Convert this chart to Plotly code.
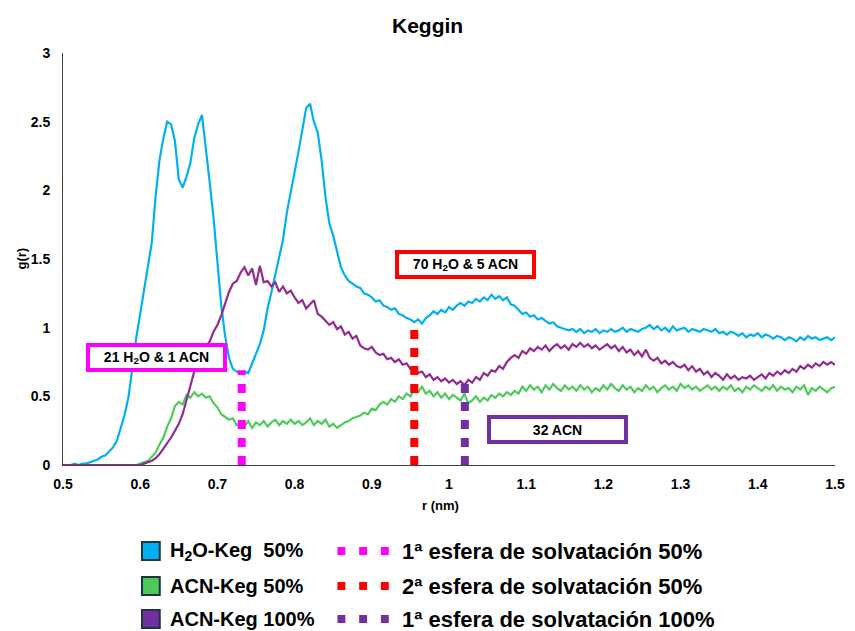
import plotly.graph_objects as go

# ---------------- data ----------------
h2o_keg_50 = [
    0.00, 0.00, 0.00, 0.01, 0.00, 0.01, 0.01, 0.02, 0.03, 0.04,
    0.06, 0.07, 0.10, 0.13, 0.18, 0.27, 0.37, 0.50, 0.72, 0.93,
    1.10, 1.27, 1.42, 1.62, 1.96, 2.22, 2.38, 2.50, 2.48, 2.36,
    2.08, 2.02, 2.10, 2.20, 2.38, 2.48, 2.55, 2.32, 2.06, 1.80,
    1.50, 1.16, 0.94, 0.78, 0.70, 0.68, 0.67, 0.68, 0.67, 0.74,
    0.82, 0.88, 0.98, 1.14, 1.26, 1.38, 1.52, 1.64, 1.84, 1.98,
    2.14, 2.28, 2.44, 2.60, 2.63, 2.50, 2.42, 2.22, 1.95, 1.76,
    1.67, 1.55, 1.44, 1.38, 1.34, 1.32, 1.30, 1.29, 1.25, 1.24,
    1.22, 1.19, 1.20, 1.16, 1.15, 1.13, 1.14, 1.10, 1.09, 1.07,
    1.06, 1.04, 1.06, 1.03, 1.07, 1.09, 1.12, 1.10, 1.13, 1.11,
    1.15, 1.13, 1.16, 1.18, 1.16, 1.19, 1.18, 1.21, 1.19, 1.22,
    1.20, 1.24, 1.21, 1.23, 1.20, 1.22, 1.17, 1.16, 1.13, 1.10,
    1.11, 1.08, 1.09, 1.06, 1.07, 1.05, 1.03, 1.04, 1.01, 1.00,
    0.99, 0.98, 0.99, 0.97, 0.99, 0.96, 0.98, 0.97, 0.99, 0.96,
    0.98, 0.97, 0.99, 0.97, 0.98, 1.00, 0.97, 0.99, 0.98, 0.97,
    0.99, 1.00, 1.02, 0.99, 1.01, 0.98, 1.00, 0.97, 1.01, 0.98,
    0.99, 1.00, 0.97, 0.99, 0.98, 0.97, 0.99, 0.98, 0.97, 0.99,
    0.96, 0.97, 0.95, 0.97, 0.96, 0.94, 0.96, 0.93, 0.95, 0.94,
    0.96, 0.93, 0.95, 0.94, 0.92, 0.94, 0.93, 0.91, 0.93, 0.92,
    0.90, 0.93, 0.91, 0.94, 0.92, 0.93, 0.91, 0.92, 0.93, 0.91,
    0.93,
]

acn_keg_50 = [
    0.00, 0.00, 0.00, 0.00, 0.00, 0.00, 0.00, 0.00, 0.00, 0.00,
    0.00, 0.00, 0.00, 0.00, 0.00, 0.00, 0.00, 0.00, 0.00, 0.00,
    0.01, 0.02, 0.03, 0.06, 0.09, 0.15, 0.20, 0.28, 0.34, 0.43,
    0.46, 0.44, 0.51, 0.49, 0.53, 0.50, 0.52, 0.49, 0.50, 0.45,
    0.42, 0.37, 0.35, 0.33, 0.34, 0.29, 0.31, 0.28, 0.32, 0.27,
    0.31, 0.29, 0.32, 0.28, 0.31, 0.33, 0.29, 0.32, 0.30, 0.33,
    0.30, 0.32, 0.29, 0.31, 0.34, 0.29, 0.32, 0.30, 0.33, 0.28,
    0.30, 0.27, 0.29, 0.31, 0.32, 0.34, 0.35, 0.36, 0.38, 0.37,
    0.41, 0.40, 0.44, 0.46, 0.44, 0.48, 0.46, 0.50, 0.48, 0.52,
    0.50, 0.55, 0.53, 0.57, 0.52, 0.54, 0.50, 0.53, 0.49, 0.52,
    0.48, 0.51, 0.49, 0.47, 0.52, 0.45, 0.47, 0.50, 0.46, 0.49,
    0.47, 0.51, 0.49, 0.52, 0.50, 0.53, 0.51, 0.54, 0.52, 0.57,
    0.54, 0.58, 0.55, 0.57, 0.53, 0.58, 0.55, 0.59, 0.56, 0.54,
    0.58, 0.55, 0.57, 0.54, 0.58, 0.55, 0.57, 0.53, 0.56, 0.54,
    0.58, 0.55, 0.59, 0.56, 0.54, 0.58, 0.55, 0.57, 0.53, 0.56,
    0.54, 0.58, 0.55, 0.57, 0.53, 0.56, 0.58, 0.55, 0.57, 0.54,
    0.59, 0.56, 0.58, 0.55, 0.57, 0.54, 0.56, 0.58, 0.55, 0.57,
    0.54, 0.57, 0.55, 0.58, 0.54, 0.56, 0.53, 0.57, 0.55, 0.58,
    0.56, 0.54, 0.57, 0.55, 0.58, 0.54, 0.57, 0.55, 0.56, 0.53,
    0.57, 0.55, 0.58, 0.51, 0.56, 0.54, 0.57, 0.55, 0.53, 0.56,
    0.57,
]

acn_keg_100 = [
    0.00, 0.00, 0.00, 0.00, 0.00, 0.00, 0.00, 0.00, 0.00, 0.00,
    0.00, 0.00, 0.00, 0.00, 0.00, 0.00, 0.00, 0.00, 0.00, 0.00,
    0.00, 0.01, 0.02, 0.03, 0.05, 0.08, 0.12, 0.16, 0.20, 0.25,
    0.30, 0.37, 0.48, 0.58, 0.68, 0.76, 0.82, 0.86, 0.90, 0.97,
    1.02, 1.09, 1.17, 1.26, 1.32, 1.34, 1.40, 1.44, 1.38, 1.43,
    1.31, 1.45, 1.33, 1.34, 1.30, 1.33, 1.26, 1.30, 1.25, 1.27,
    1.22, 1.18, 1.20, 1.14, 1.17, 1.20, 1.10, 1.08, 1.05, 1.02,
    1.04, 0.99, 1.01, 0.95, 0.97, 0.92, 0.94, 0.87, 0.85, 0.84,
    0.86, 0.82, 0.80, 0.81, 0.77, 0.78, 0.75, 0.77, 0.73, 0.74,
    0.70, 0.71, 0.67, 0.68, 0.64, 0.66, 0.62, 0.64, 0.61, 0.63,
    0.60, 0.62, 0.59, 0.61, 0.58, 0.62, 0.60, 0.64, 0.62, 0.67,
    0.65, 0.69, 0.68, 0.72, 0.70, 0.75, 0.78, 0.80, 0.78, 0.83,
    0.81, 0.85, 0.83, 0.86, 0.84, 0.87, 0.83, 0.86, 0.88, 0.85,
    0.87, 0.84, 0.88, 0.86, 0.89, 0.86, 0.88, 0.85, 0.87, 0.84,
    0.86, 0.88, 0.85, 0.87, 0.83, 0.86, 0.82, 0.84, 0.80, 0.83,
    0.79, 0.84, 0.78, 0.76, 0.78, 0.74, 0.76, 0.73, 0.75, 0.72,
    0.71, 0.73, 0.69, 0.72, 0.68, 0.70, 0.66, 0.68, 0.64, 0.67,
    0.65, 0.62, 0.66, 0.63, 0.65, 0.62, 0.64, 0.63, 0.65, 0.62,
    0.64, 0.66, 0.63, 0.67, 0.65, 0.68, 0.66, 0.69, 0.67, 0.70,
    0.68, 0.72, 0.70, 0.73, 0.71, 0.74, 0.72, 0.75, 0.73, 0.75,
    0.73,
]

r_start, r_step = 0.5, 0.005

series_names = ["H<sub>2</sub>O-Keg\u00a0 50%", "ACN-Keg 50%", "ACN-Keg 100%"]
series_colors = ["#00B0F0", "#4CCB5A", "#922C8F"]
legend_square_colors = ["#00B0F0", "#4CCB5A", "#7030A0"]

# solvation-sphere markers
sphere_names = ["1ª esfera de solvatación 50%", "2ª esfera de solvatación 50%",
                "1ª esfera de solvatación 100%"]
sphere_r = [0.7315, 0.955, 1.0205]
sphere_top = [0.69, 1.02, 0.60]
sphere_colors = ["#FF00FF", "#FF0000", "#7030A0"]

# boxed labels
box_texts = ["21 H<sub>2</sub>O &amp; 1 ACN", "70 H<sub>2</sub>O &amp; 5 ACN", "32 ACN"]
box_r = [0.6208, 1.0211, 1.1407]
box_g = [0.783, 1.457, 0.262]
box_colors = ["#FF00FF", "#FF0000", "#7030A0"]

x_ticks = [0.5, 0.6, 0.7, 0.8, 0.9, 1.0, 1.1, 1.2, 1.3, 1.4, 1.5]
x_labels = ["0.5", "0.6", "0.7", "0.8", "0.9", "1", "1.1", "1.2", "1.3", "1.4", "1.5"]
y_ticks = [0, 0.5, 1, 1.5, 2, 2.5, 3]
y_labels = ["0", "0.5", "1", "1.5", "2", "2.5", "3"]

# ---------------- figure ----------------
W, H = 855, 631
L, R, T, B = 63, 10, 53, 166
PW, PH = W - L - R, H - T - B

def px(xp):
    return (xp - L) / PW

def py(yp):
    return (H - B - yp) / PH

FONT = "Liberation Sans, Arial, sans-serif"

fig = go.Figure()

for name, ys, col in zip(series_names, [h2o_keg_50, acn_keg_50, acn_keg_100], series_colors):
    xs = [round(r_start + r_step * i, 4) for i in range(len(ys))]
    fig.add_trace(go.Scatter(x=xs, y=ys, mode="lines", name=name,
                             line=dict(color=col, width=2.2), showlegend=False))

for name, xr, top, col in zip(sphere_names, sphere_r, sphere_top, sphere_colors):
    fig.add_trace(go.Scatter(x=[xr, xr], y=[0, top], mode="lines", name=name,
                             line=dict(color=col, width=8, dash="9px,9px"),
                             showlegend=False))

annotations = []
for txt, xr, yg, col in zip(box_texts, box_r, box_g, box_colors):
    annotations.append(dict(
        x=xr, y=yg, xref="x", yref="y", text="<b>" + txt + "</b>", showarrow=False,
        font=dict(family=FONT, size=14, color="black"),
        bgcolor="white", bordercolor=col, borderwidth=4, borderpad=2,
        width=129, height=17, align="center"))

# title and axis titles
annotations.append(dict(x=px(432), y=py(25), xref="paper", yref="paper", text="<b>Keggin</b>",
                        showarrow=False, font=dict(family=FONT, size=21, color="black"),
                        xanchor="center", yanchor="middle"))
annotations.append(dict(x=px(20), y=py(259), xref="paper", yref="paper", text="<b>g(r)</b>",
                        showarrow=False, textangle=-90, font=dict(family=FONT, size=13, color="black"),
                        xanchor="center", yanchor="middle"))
annotations.append(dict(x=px(445), y=py(505), xref="paper", yref="paper", text="<b>r (nm)</b>",
                        showarrow=False, font=dict(family=FONT, size=13, color="black"),
                        xanchor="center", yanchor="middle"))

# manual legend
shapes = []
row_y = [551, 586, 619]
for i in range(3):
    cy = row_y[i]
    shapes.append(dict(type="rect", xref="paper", yref="paper",
                       x0=px(143), x1=px(161), y0=py(cy + 9), y1=py(cy - 9),
                       fillcolor=legend_square_colors[i], line=dict(color="#1E3443", width=2)))
    annotations.append(dict(x=px(169), y=py(cy), xref="paper", yref="paper",
                            text="<b>" + series_names[i] + "</b>", showarrow=False,
                            xanchor="left", yanchor="middle",
                            font=dict(family=FONT, size=20, color="black")))
    for dx in (341, 363, 385):
        shapes.append(dict(type="rect", xref="paper", yref="paper",
                           x0=px(dx), x1=px(dx + 8), y0=py(cy + 4), y1=py(cy - 4),
                           fillcolor=sphere_colors[i], line=dict(width=0)))
    annotations.append(dict(x=px(404), y=py(cy), xref="paper", yref="paper",
                            text="<b>" + sphere_names[i] + "</b>", showarrow=False,
                            xanchor="left", yanchor="middle",
                            font=dict(family=FONT, size=22, color="black")))

fig.update_layout(
    width=W, height=H,
    margin=dict(l=L, r=R, t=T, b=B),
    paper_bgcolor="white", plot_bgcolor="white",
    font=dict(family=FONT, color="black"),
    showlegend=False,
    annotations=annotations,
    shapes=shapes,
    xaxis=dict(range=[0.5, 1.5], tickvals=x_ticks, ticktext=["<b>%s</b>" % t for t in x_labels],
               showgrid=False, zeroline=False, showline=True, linecolor="#404040", linewidth=1,
               ticks="", ticklabelstandoff=6, tickfont=dict(size=14, color="black"), fixedrange=True),
    yaxis=dict(range=[0, 3], tickvals=y_ticks, ticktext=["<b>%s</b>" % t for t in y_labels],
               showgrid=False, zeroline=False, showline=True, linecolor="#404040", linewidth=1,
               ticks="", ticklabelstandoff=9, tickfont=dict(size=14, color="black"), fixedrange=True),
)

fig.write_html("out.html")
